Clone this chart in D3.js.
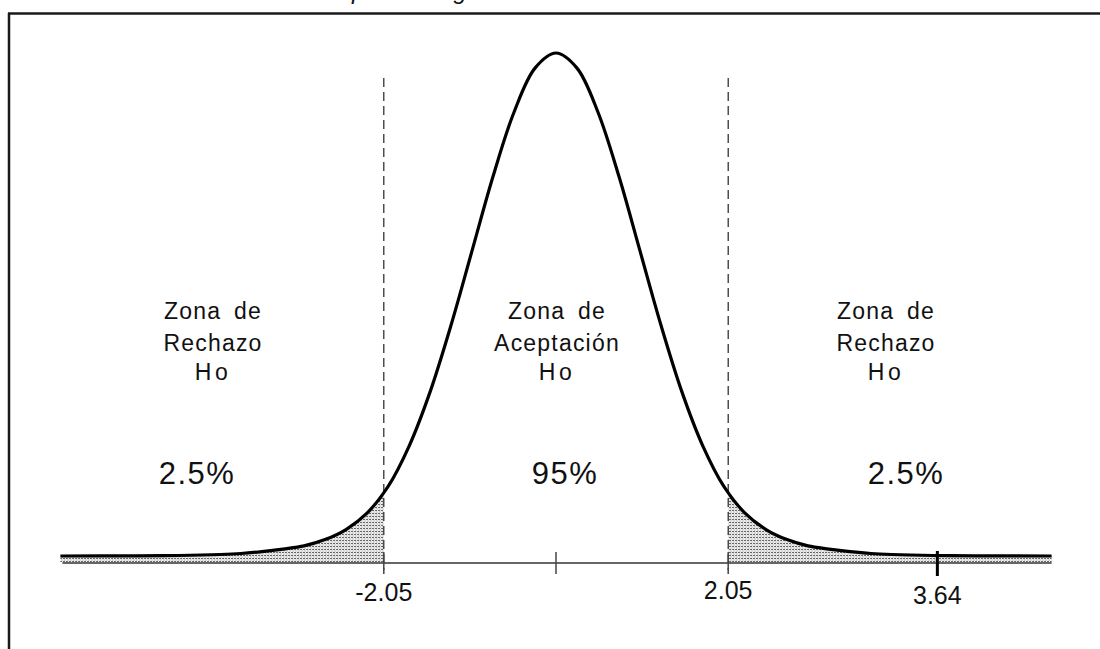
<!DOCTYPE html>
<html><head><meta charset="utf-8">
<script src="https://cdn.jsdelivr.net/npm/d3@7"></script>
<style>html,body{margin:0;padding:0;background:#fff;overflow:hidden}</style>
</head><body>
<svg id="c" width="1100" height="649"></svg>
<script>
// ---- data ----
const zValues   = [-5.9,-5.0,-4.5,-4.0,-3.75,-3.5,-3.25,-3.0,-2.75,-2.5,-2.25,-2.0,-1.75,-1.5,-1.25,-1.0,-0.75,-0.5,-0.25,0,
                   0.25,0.5,0.75,1.0,1.25,1.5,1.75,2.0,2.25,2.5,2.75,3.0,3.25,3.5,3.75,4.0,4.5,5.0,5.9];
const density   = [0,0.0001,0.0004,0.0012,0.002,0.0035,0.0055,0.008,0.013,0.021,0.034,0.055,0.087,0.130,0.183,0.242,0.301,0.352,0.387,0.399,
                   0.387,0.352,0.301,0.242,0.183,0.130,0.087,0.055,0.034,0.021,0.013,0.008,0.0055,0.0035,0.002,0.0012,0.0004,0.0001,0];
const criticalValues = [-2.05, 2.05];
const tickValues     = [-2.05, 0, 2.05, 3.64];
const tickLabels     = ["-2.05", "", "2.05", "3.64"];
const zoneTitles     = [["Zona de","Rechazo","Ho"],["Zona de","Aceptación","Ho"],["Zona de","Rechazo","Ho"]];
const zonePercents   = ["2.5%","95%","2.5%"];
const captionText    = "Distribución t para la región crítica";

// ---- layout ----
const svg = d3.select("#c");
const x = d3.scaleLinear().domain([-5.9, 5.9]).range([60.4, 1051.6]);   // 84 px per unit, 0 -> 556
const y = d3.scaleLinear().domain([0, 0.399]).range([556, 53]);
const axisY = 563;
// schematic tick placement (figure not drawn to scale for 3.64)
const xt = d3.scaleLinear().domain([-2.05, 0, 2.05, 3.64]).range([x(-2.05), x(0), x(2.05), x(4.54)]);

const pts = zValues.map((z,i)=>({z, d: density[i]}));

// frame
svg.append("line").attr("x1",8).attr("x2",1100).attr("y1",13.5).attr("y2",13.5)
   .attr("stroke","#1a1a1a").attr("stroke-width",2.5);
svg.append("line").attr("x1",9).attr("x2",9).attr("y1",13).attr("y2",649)
   .attr("stroke","#1a1a1a").attr("stroke-width",2.5);

// cut-off caption above the frame (only descenders visible, as in the reference)
const cap = svg.append("text").attr("y",-1).attr("font-family","Liberation Sans, Arial, sans-serif")
   .attr("font-style","italic").attr("font-size",24).attr("fill","#111").text(captionText);
const pIdx = captionText.indexOf("p");
const off = cap.node().getSubStringLength(0, pIdx);
cap.attr("x", 352 - off);

// stipple pattern
const defs = svg.append("defs");
const pat = defs.append("pattern").attr("id","stip").attr("patternUnits","userSpaceOnUse")
   .attr("width",3).attr("height",3);
pat.append("rect").attr("width",3).attr("height",3).attr("fill","#efefef");
pat.append("rect").attr("x",0).attr("y",0).attr("width",2).attr("height",1).attr("fill","#666");
pat.append("rect").attr("x",1.5).attr("y",1.5).attr("width",1).attr("height",1).attr("fill","#999");

defs.append("clipPath").attr("id","leftTail").append("rect")
   .attr("x",0).attr("y",0).attr("width",x(criticalValues[0])).attr("height",649);
defs.append("clipPath").attr("id","rightTail").append("rect")
   .attr("x",x(criticalValues[1])).attr("y",0).attr("width",1100).attr("height",649);

const area = d3.area().x(d=>x(d.z)).y0(axisY-1).y1(d=>y(d.d)).curve(d3.curveCatmullRom.alpha(0.5));
["leftTail","rightTail"].forEach(id=>{
  svg.append("path").datum(pts).attr("d",area).attr("fill","url(#stip)")
     .attr("clip-path",`url(#${id})`);
});

// axis line
svg.append("line").attr("x1",x(-5.9)+2).attr("x2",x(5.9)).attr("y1",axisY).attr("y2",axisY)
   .attr("stroke","#333").attr("stroke-width",1.6);

// dashed critical lines
svg.selectAll(".crit").data(criticalValues).join("line")
   .attr("x1",d=>x(d)).attr("x2",d=>x(d)).attr("y1",78).attr("y2",570)
   .attr("stroke","#222").attr("stroke-width",1.2).attr("stroke-dasharray","9,5");

// ticks
svg.selectAll(".tk").data(tickValues).join("line")
   .attr("x1",d=>xt(d)).attr("x2",d=>xt(d))
   .attr("y1",(d,i)=> i===3 ? 551 : 552).attr("y2",(d,i)=> i===3 ? 576 : 574)
   .attr("stroke",(d,i)=> i===3 ? "#000" : "#444")
   .attr("stroke-width",(d,i)=> i===3 ? 3 : 1.5);

// curve
const line = d3.line().x(d=>x(d.z)).y(d=>y(d.d)).curve(d3.curveCatmullRom.alpha(0.5));
svg.append("path").datum(pts).attr("d",line).attr("fill","none")
   .attr("stroke","#000").attr("stroke-width",3.2).attr("stroke-linejoin","round");

// tick labels
const labBase = [601, 0, 599, 604];
svg.selectAll(".tl").data(tickValues).join("text")
   .attr("x",d=>xt(d)).attr("y",(d,i)=>labBase[i]).attr("text-anchor","middle")
   .attr("font-family","Liberation Sans, Arial, sans-serif").attr("font-size",25).attr("fill","#111")
   .text((d,i)=>tickLabels[i]);

// zone labels
const zoneCx = [213, 557, 886];
const pctCx  = [197, 565, 906];
const lineBase = [319, 351, 380];
zoneTitles.forEach((lines,k)=>{
  lines.forEach((t,j)=>{
    svg.append("text").attr("x",zoneCx[k]).attr("y",lineBase[j]).attr("text-anchor","middle")
      .attr("font-family","Liberation Sans, Arial, sans-serif").attr("font-size",23)
      .attr("letter-spacing", j===2 ? 3.5 : 1.2).attr("word-spacing",5).attr("fill","#111").text(t);
  });
  svg.append("text").attr("x",pctCx[k]).attr("y",484).attr("text-anchor","middle")
     .attr("font-family","Liberation Sans, Arial, sans-serif").attr("font-size",31)
     .attr("letter-spacing",1.5).attr("fill","#111").text(zonePercents[k]);
});
</script>
</body></html>
